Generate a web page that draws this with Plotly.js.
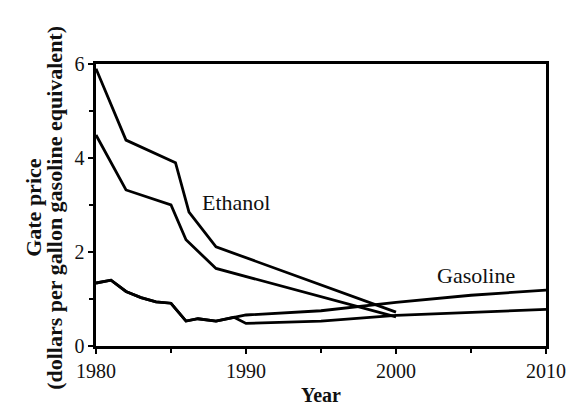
<!DOCTYPE html>
<html>
<head>
<meta charset="utf-8">
<script src="https://cdn.plot.ly/plotly-3.0.1.min.js"></script>
<style>html,body{margin:0;padding:0;background:#fff;}#chart{width:573px;height:408px;}</style>
</head>
<body>
<div id="chart"></div>
<script>
// Ethanol (upper and lower estimates)
const ethanolHighYears = [1980, 1982, 1985.3, 1986.2, 1988, 2000];
const ethanolHighPrice = [5.9, 4.38, 3.9, 2.85, 2.11, 0.72];
const ethanolLowYears = [1980, 1982, 1985, 1986, 1988, 2000];
const ethanolLowPrice = [4.49, 3.32, 3.0, 2.26, 1.65, 0.62];

// Gasoline (shared history, then high and low projections)
const gasolineHighYears = [1980, 1981, 1982, 1983, 1984, 1985, 1986, 1986.8, 1988, 1989.2, 1990, 1995, 2000, 2005, 2010];
const gasolineHighPrice = [1.34, 1.40, 1.16, 1.03, 0.94, 0.91, 0.53, 0.58, 0.53, 0.61, 0.66, 0.75, 0.93, 1.08, 1.19];
const gasolineLowYears = [1980, 1981, 1982, 1983, 1984, 1985, 1986, 1986.8, 1988, 1989.2, 1990, 1995, 2000, 2005, 2010];
const gasolineLowPrice = [1.34, 1.40, 1.16, 1.03, 0.94, 0.91, 0.53, 0.58, 0.53, 0.61, 0.48, 0.53, 0.65, 0.72, 0.78];

const xTickVals = [1980, 1990, 2000, 2010];
const yTickVals = [0, 2, 4, 6];
const seriesLabels = ["Ethanol", "Gasoline"];
const xTitle = "Year";
const yTitleLines = ["Gate price", "(dollars per gallon gasoline equivalent)"];

const font = "Liberation Serif, Times New Roman, serif";
const ink = "#111";
const lineStyle = {color: "#000", width: 2.8};

const traces = [
  {x: ethanolHighYears, y: ethanolHighPrice},
  {x: ethanolLowYears, y: ethanolLowPrice},
  {x: gasolineHighYears, y: gasolineHighPrice},
  {x: gasolineLowYears, y: gasolineLowPrice}
].map(t => Object.assign(t, {type: "scatter", mode: "lines", line: lineStyle, hoverinfo: "skip"}));

const axisCommon = {
  ticks: "outside", ticklen: 5, tickwidth: 1.6, tickcolor: "#000",
  showline: true, linecolor: "#000", linewidth: 2.6, mirror: true,
  showgrid: false, zeroline: false,
  tickfont: {family: font, size: 20, color: ink}
};

const layout = {
  width: 573, height: 408,
  margin: {l: 96, r: 27, t: 64, b: 62},
  paper_bgcolor: "#fff", plot_bgcolor: "#fff",
  showlegend: false,
  font: {family: font, size: 20, color: ink},
  xaxis: Object.assign({}, axisCommon, {
    range: [1980, 2010], tickvals: xTickVals, ticktext: xTickVals.map(String),
    minor: {dtick: 5, ticks: "outside", ticklen: 4, tickwidth: 1.6, tickcolor: "#000"}
  }),
  yaxis: Object.assign({}, axisCommon, {
    range: [0, 6], tickvals: yTickVals, ticktext: yTickVals.map(String),
    minor: {dtick: 1, ticks: "outside", ticklen: 4, tickwidth: 1.6, tickcolor: "#000"}
  }),
  annotations: [
    {x: 1989.3, y: 3.06, xref: "x", yref: "y", text: seriesLabels[0], showarrow: false, font: {family: font, size: 22, color: ink}},
    {x: 2005.3, y: 1.51, xref: "x", yref: "y", text: seriesLabels[1], showarrow: false, font: {family: font, size: 22, color: ink}},
    {x: 0.5, y: -0.174, xref: "paper", yref: "paper", xanchor: "center", yanchor: "middle", text: "<b>" + xTitle + "</b>", showarrow: false, font: {family: font, size: 20, color: ink}},
    {x: 0, y: 0.49, xref: "paper", yref: "paper", xshift: -62, xanchor: "center", yanchor: "middle", textangle: -90, text: "<b>" + yTitleLines[0] + "</b>", showarrow: false, font: {family: font, size: 22, color: ink}},
    {x: 0, y: 0.49, xref: "paper", yref: "paper", xshift: -41, xanchor: "center", yanchor: "middle", textangle: -90, text: "<b>" + yTitleLines[1] + "</b>", showarrow: false, font: {family: font, size: 22, color: ink}}
  ]
};

Plotly.newPlot("chart", traces, layout, {staticPlot: true, displayModeBar: false});
</script>
</body>
</html>
